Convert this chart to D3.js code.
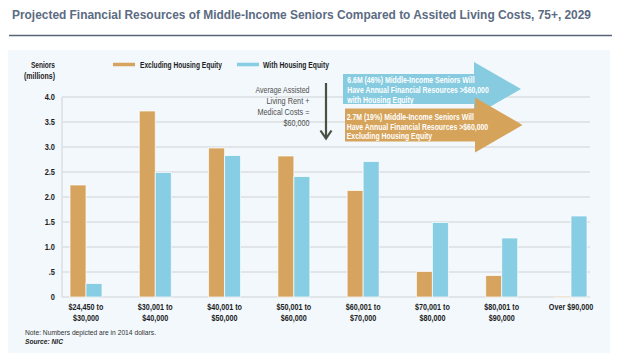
<!DOCTYPE html>
<html><head><meta charset="utf-8">
<script src="https://cdn.jsdelivr.net/npm/d3@7"></script>
<style>
html,body{margin:0;padding:0;background:#fff;}
svg{display:block;font-family:"Liberation Sans",Arial,sans-serif;}
</style></head>
<body>
<svg id="c" width="624" height="355"></svg>
<script>
const categories = [["$24,450 to","$30,000"],["$30,001 to","$40,000"],["$40,001 to","$50,000"],["$50,001 to","$60,000"],["$60,001 to","$70,000"],["$70,001 to","$80,000"],["$80,001 to","$90,000"],["Over $90,000"]];
const excludingHousing = [2.24, 3.72, 2.98, 2.82, 2.13, 0.51, 0.43, 0.02];
const withHousing = [0.27, 2.49, 2.83, 2.41, 2.71, 1.49, 1.18, 1.62];
const yTicks = [0, 0.5, 1, 1.5, 2, 2.5, 3, 3.5, 4];
const yTickLabels = ["0", ".5", "1.0", "1.5", "2.0", "2.5", "3.0", "3.5", "4.0"];
const seriesNames = ["Excluding Housing Equity", "With Housing Equity"];
const colors = ["#d6a45e", "#87cde3"];

const svg = d3.select("#c");

// helper: condensed text via textLength
function T(parent, x, y, str, o) {
  o = o || {};
  const t = parent.append("text").attr("x", x).attr("y", y)
    .attr("font-size", o.size || 9)
    .attr("font-weight", o.weight || "normal")
    .attr("font-style", o.style || "normal")
    .attr("fill", o.fill || "#1d1d24")
    .attr("text-anchor", o.anchor || "start")
    .text(str);
  const w = o.width || t.node().getComputedTextLength() * (o.factor || 0.8);
  t.attr("textLength", w).attr("lengthAdjust", "spacingAndGlyphs");
  return t;
}

// title
T(svg, 12, 18.5, "Projected Financial Resources of Middle-Income Seniors Compared to Assited Living Costs, 75+, 2029",
  {size: 12.3, weight: "bold", fill: "#5b6b82", width: 579});
svg.append("line").attr("x1", 9).attr("x2", 612).attr("y1", 35.5).attr("y2", 35.5).attr("stroke", "#5a6478").attr("stroke-width", 1.5);
// panel
svg.append("rect").attr("x", 8).attr("y", 50).attr("width", 602).attr("height", 303).attr("fill", "#f2f8fc");

const y = d3.scaleLinear().domain([0, 4]).range([297, 97]);
const x = d3.scalePoint().domain(d3.range(categories.length)).range([86, 571]);
const bw = 16;

// grid
const g = svg.append("g");
g.selectAll("line.grid").data(yTicks).join("line")
  .attr("x1", 62).attr("x2", 590).attr("y1", d => y(d)).attr("y2", d => y(d))
  .attr("stroke", "#dcdfe1").attr("stroke-width", 1.5);
g.append("line").attr("x1", 62).attr("x2", 62).attr("y1", y(4)).attr("y2", y(0)).attr("stroke", "#dcdfe1").attr("stroke-width", 1.5);

// y labels
yTicks.forEach((d, i) => T(g, 55, y(d) + 3.3, yTickLabels[i], {size: 9.5, weight: "bold", anchor: "end", factor: 0.78}));
T(svg, 55, 68, "Seniors", {size: 9, weight: "bold", anchor: "end", width: 24});
T(svg, 55, 78.5, "(millions)", {size: 9, weight: "bold", anchor: "end", width: 31});

// bars
[excludingHousing, withHousing].forEach((vals, s) => {
  svg.append("g").selectAll("rect").data(vals).join("rect")
    .attr("x", (d, i) => x(i) - bw + s * bw)
    .attr("y", d => y(d))
    .attr("width", bw)
    .attr("height", d => y(0) - y(d))
    .attr("fill", colors[s])
    .attr("stroke", "#ffffff").attr("stroke-opacity", 0.7).attr("stroke-width", 1);
});

// x labels
categories.forEach((lines, i) => {
  lines.forEach((ln, j) => T(svg, x(i), 310 + j * 10.7, ln, {size: 9, weight: "bold", anchor: "middle", factor: 0.8}));
});

// legend
const lg = [[113, 140, 82], [237, 263, 66]];
seriesNames.forEach((n, s) => {
  svg.append("line").attr("x1", lg[s][0]).attr("x2", lg[s][0] + 22).attr("y1", 64.5).attr("y2", 64.5).attr("stroke", colors[s]).attr("stroke-width", 3.5);
  T(svg, lg[s][1], 67.8, n, {size: 9, weight: "bold", width: lg[s][2]});
});

// annotation
const ann = [["Average Assisted", 54], ["Living Rent +", 43], ["Medical Costs =", 52], ["$60,000", 26]];
ann.forEach(([l, w], j) => T(svg, 309.5, 93.2 + j * 10.9, l, {size: 8.8, fill: "#4f4f4f", anchor: "end", width: w}));
svg.append("line").attr("x1", 326).attr("x2", 326).attr("y1", 83).attr("y2", 138.5).attr("stroke", "#4a5143").attr("stroke-width", 2.2);
svg.append("path").attr("d", "M320.5,130.5 L326,138.5 L331.5,130.5").attr("fill", "none").attr("stroke", "#4a5143").attr("stroke-width", 2.2).attr("stroke-linejoin", "miter");

// big arrows
function bigArrow(x0, yTop, yBot, xNeck, hTop, hBot, xTip, yTip, color) {
  svg.append("path").attr("d", `M${x0},${yTop} L${xNeck},${yTop} L${xNeck},${hTop} L${xTip},${yTip} L${xNeck},${hBot} L${xNeck},${yBot} L${x0},${yBot} Z`).attr("fill", color);
}
bigArrow(343, 74, 104, 474, 62, 116, 521, 89, "#86cbe0");
bigArrow(345, 108.5, 141.5, 475, 97.5, 152.5, 522.5, 125, "#d6a35a");
const blueT = ["6.6M (46%) Middle-Income Seniors Will", "Have Annual Financial Resources >$60,000", "with Housing Equity"];
const orT = ["2.7M (19%) Middle-Income Seniors Will", "Have Annual Financial Resources >$60,000", "Excluding Housing Equity"];
// shared condense factor so the widest line spans the measured width
const probe = svg.append("text").attr("font-size", 9.2).attr("font-weight", "bold").text(blueT[1]);
const arrowFactor = 141.5 / probe.node().getComputedTextLength();
probe.remove();
blueT.forEach((l, j) => T(svg, 347.3, 83.2 + j * 9.9, l, {size: 9.2, weight: "bold", fill: "#ffffff", factor: arrowFactor}));
orT.forEach((l, j) => T(svg, 346.7, 120 + j * 9.6, l, {size: 9.2, weight: "bold", fill: "#ffffff", factor: arrowFactor}));

// notes
T(svg, 25, 334.5, "Note: Numbers depicted are in 2014 dollars.", {size: 7, fill: "#333", width: 131});
T(svg, 25, 344, "Source: NIC", {size: 7.5, weight: "bold", style: "italic", width: 38});
</script>
</body></html>
